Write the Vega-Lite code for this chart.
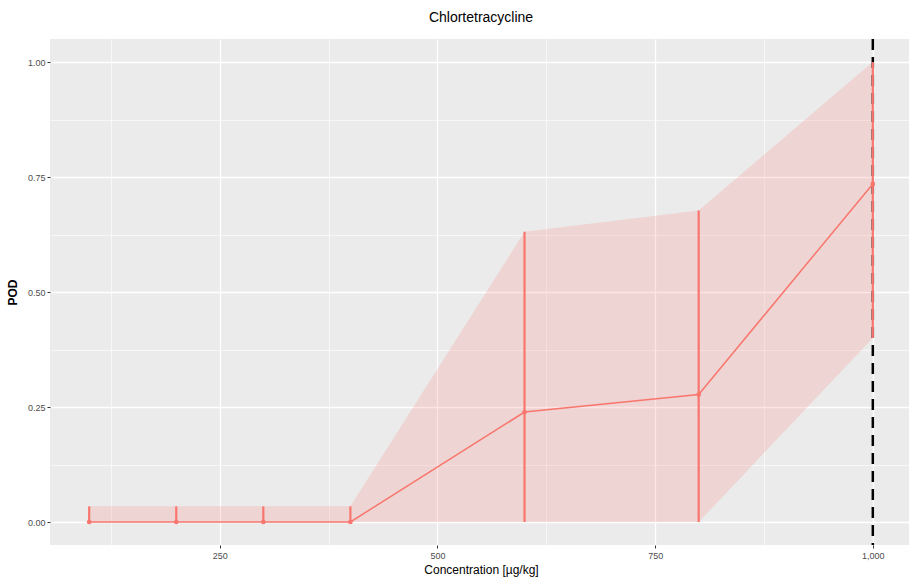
{
  "$schema": "https://vega.github.io/schema/vega-lite/v6.json",
  "width": 862,
  "height": 506,
  "autosize": {"type": "none"},
  "padding": {"left": 50, "top": 39, "right": 0, "bottom": 43},
  "background": "white",
  "title": {"text": "Chlortetracycline", "fontSize": 14, "font": "Liberation Sans", "fontWeight": "normal", "color": "black", "offset": 13, "anchor": "middle"},
  "config": {
    "view": {"fill": "#EBEBEB", "stroke": null},
    "font": "Liberation Sans",
    "axis": {"labelColor": "#4D4D4D", "labelFontSize": 9, "labelFont": "Liberation Sans", "tickColor": "#333333", "tickSize": 3, "domain": false, "titleFontSize": 12, "titleColor": "black", "titleFont": "Liberation Sans", "titleFontWeight": "normal", "gridColor": "white"}
  },
  "datasets": {
    "pod": [
      {"conc": 100, "pod": 0, "lower": 0, "upper": 0.034},
      {"conc": 200, "pod": 0, "lower": 0, "upper": 0.034},
      {"conc": 300, "pod": 0, "lower": 0, "upper": 0.034},
      {"conc": 400, "pod": 0, "lower": 0, "upper": 0.034},
      {"conc": 600, "pod": 0.239, "lower": 0, "upper": 0.631},
      {"conc": 800, "pod": 0.277, "lower": 0, "upper": 0.677},
      {"conc": 1000, "pod": 0.735, "lower": 0.4, "upper": 1.0}
    ],
    "lod": [{"conc": 1000}]
  },
  "resolve": {"axis": {"x": "independent", "y": "independent"}},
  "layer": [
    {
      "data": {"name": "pod"},
      "mark": {"type": "point", "opacity": 0},
      "encoding": {
        "x": {"field": "conc", "type": "quantitative", "scale": {"domain": [55, 1045], "nice": false, "zero": false},
              "axis": {"orient": "bottom", "values": [125, 375, 625, 875], "labels": false, "ticks": false, "domain": false, "title": null, "grid": true, "gridWidth": 0.6}},
        "y": {"field": "pod", "type": "quantitative", "scale": {"domain": [-0.05, 1.05], "nice": false, "zero": false},
              "axis": {"orient": "left", "values": [0.125, 0.375, 0.625, 0.875], "labels": false, "ticks": false, "domain": false, "title": null, "grid": true, "gridWidth": 0.6}}
      }
    },
    {
      "encoding": {
        "x": {"field": "conc", "type": "quantitative", "scale": {"domain": [55, 1045], "nice": false, "zero": false},
              "axis": {"orient": "bottom", "values": [250, 500, 750, 1000], "format": ",.0f", "title": "Concentration [µg/kg]", "grid": true, "gridWidth": 1.3, "labelPadding": 3, "titlePadding": 4}}
      },
      "layer": [
        {
          "data": {"name": "pod"},
          "mark": {"type": "area", "color": "#F8766D", "opacity": 0.2},
          "encoding": {
            "y": {"field": "lower", "type": "quantitative", "scale": {"domain": [-0.05, 1.05], "nice": false, "zero": false},
                  "axis": {"orient": "left", "values": [0, 0.25, 0.5, 0.75, 1], "format": ".2f", "title": "POD", "grid": true, "gridWidth": 1.3, "labelPadding": 2, "titlePadding": 8, "titleFontWeight": "bold", "titleFontSize": 12}},
            "y2": {"field": "upper"}
          }
        },
        {
          "data": {"name": "lod"},
          "mark": {"type": "rule", "color": "black", "strokeWidth": 2.5, "strokeDash": [11, 7]},
          "encoding": {}
        },
        {
          "data": {"name": "pod"},
          "mark": {"type": "rule", "color": "#F8766D", "strokeWidth": 2.2},
          "encoding": {
            "y": {"field": "lower", "type": "quantitative", "scale": {"domain": [-0.05, 1.05], "nice": false, "zero": false},
                  "axis": {"orient": "left", "values": [0, 0.25, 0.5, 0.75, 1], "format": ".2f", "title": "POD", "grid": true, "gridWidth": 1.3, "labelPadding": 2, "titlePadding": 8, "titleFontWeight": "bold", "titleFontSize": 12}},
            "y2": {"field": "upper"}
          }
        },
        {
          "data": {"name": "pod"},
          "mark": {"type": "line", "color": "#F8766D", "strokeWidth": 1.5},
          "encoding": {
            "y": {"field": "pod", "type": "quantitative", "scale": {"domain": [-0.05, 1.05], "nice": false, "zero": false},
                  "axis": {"orient": "left", "values": [0, 0.25, 0.5, 0.75, 1], "format": ".2f", "title": "POD", "grid": true, "gridWidth": 1.3, "labelPadding": 2, "titlePadding": 8, "titleFontWeight": "bold", "titleFontSize": 12}}
          }
        },
        {
          "data": {"name": "pod"},
          "mark": {"type": "circle", "color": "#F8766D", "opacity": 1, "size": 22},
          "encoding": {
            "y": {"field": "pod", "type": "quantitative", "scale": {"domain": [-0.05, 1.05], "nice": false, "zero": false},
                  "axis": {"orient": "left", "values": [0, 0.25, 0.5, 0.75, 1], "format": ".2f", "title": "POD", "grid": true, "gridWidth": 1.3, "labelPadding": 2, "titlePadding": 8, "titleFontWeight": "bold", "titleFontSize": 12}}
          }
        }
      ]
    }
  ]
}
